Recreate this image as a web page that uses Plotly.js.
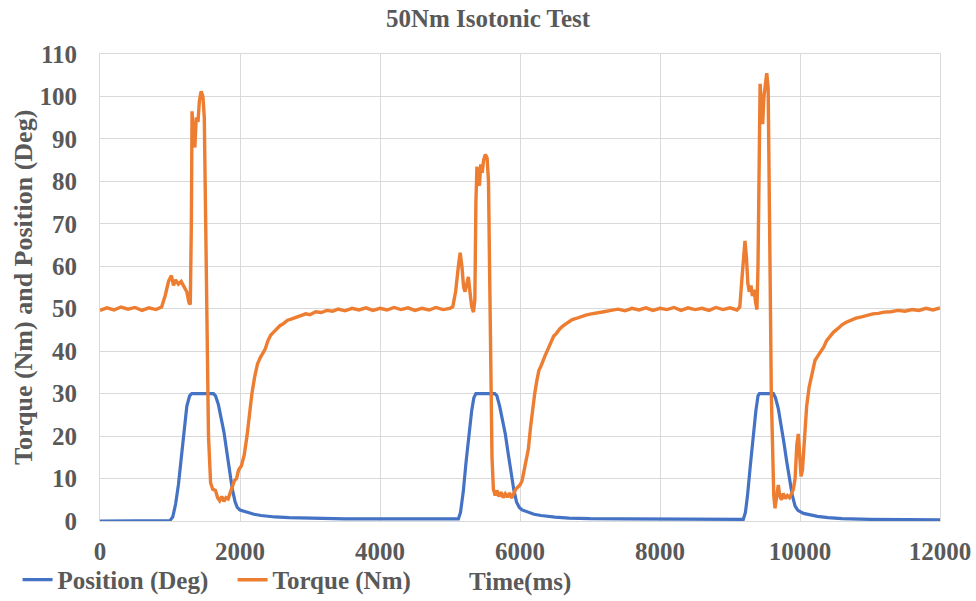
<!DOCTYPE html>
<html>
<head>
<meta charset="utf-8">
<script src="https://cdn.plot.ly/plotly-3.0.1.min.js"></script>
<style>html,body{margin:0;padding:0;background:#fff}#chart{width:976px;height:601px}</style>
</head>
<body>
<div id="chart"></div>
<script>
// Position (Deg) vs time (ms)
const posTime = [0,500,1000,1040,1080,1120,1160,1200,1240,1280,1310,1620,1650,1690,1730,1770,1810,1850,1890,1930,1960,2000,2100,2200,2300,2400,2500,2700,3000,3500,4000,5000,
  5120,5150,5190,5230,5270,5310,5340,5370,5640,5670,5710,5750,5790,5830,5870,5910,5950,5990,6030,6120,6200,6300,6400,6500,6700,7000,7500,8500,
  9190,9220,9250,9290,9330,9370,9400,9420,9620,9650,9690,9730,9770,9810,9850,9890,9930,9970,10050,10150,10250,10400,10600,11000,12000];
const posValues = [0,0.1,0.1,1,4,8.5,15,21,27,29.5,30,30,29.5,27.5,24.5,21,16.5,12,7.5,4.5,3.2,2.6,2,1.6,1.3,1.1,0.95,0.8,0.65,0.5,0.5,0.5,
  0.5,2,7,14,20.5,26,29,30,30,29.5,27,24,20.5,16,11.5,7.5,4.5,3.2,2.6,2,1.6,1.3,1.05,0.9,0.7,0.55,0.5,0.45,
  0.4,2,6,13,20,26,29.5,30,30,29,26.5,23,18.5,14,9.5,6,3.5,2.5,1.8,1.4,1.1,0.8,0.55,0.4,0.3];

// Torque (Nm) vs time (ms)
const torqueTime = [0,100,200,300,400,500,600,700,800,880,
  930,980,1020,1050,1080,1120,1160,1200,1240,1270,1290,1305,1315,1335,1355,1375,1400,1420,1445,1470,1490,1510,1530,1550,1580,1610,1650,1680,1710,1740,1770,1800,1830,1860,1890,1920,1950,1980,2020,2060,2100,2130,2170,2210,2250,2290,2320,2360,2400,2440,2480,2520,2570,2620,2680,2740,2800,2870,2940,3000,3080,3160,3240,3320,3400,3500,3600,3700,3800,3900,4000,4100,4200,4300,4400,4500,4600,4700,4800,4900,5000,5040,
  5080,5120,5145,5170,5195,5215,5240,5262,5285,5310,5335,5355,5370,5385,5400,5420,5440,5460,5480,5505,5530,5550,5565,5580,5600,5620,5645,5670,5700,5730,5760,5790,5820,5850,5880,5910,5940,5970,6000,6030,6060,6090,6120,6150,6180,6210,6240,6270,6300,6330,6360,6400,6440,6480,6520,6570,6620,6680,6740,6800,6870,6940,7020,7100,7200,7300,7400,7500,7600,7700,7800,7900,8000,8100,8200,8300,8400,8500,8600,8700,8800,8900,9000,9100,9140,
  9170,9195,9214,9235,9255,9275,9300,9320,9345,9365,9385,9400,9415,9430,9450,9467,9485,9505,9525,9545,9560,9575,9590,9610,9625,9643,9660,9690,9710,9735,9760,9790,9820,9850,9880,9905,9930,9955,9976,9995,10015,10035,10060,10095,10130,10170,10214,10260,10300,10340,10380,10430,10480,10540,10600,10660,10730,10800,10880,10960,11040,11120,11200,11300,11400,11500,11600,11700,11800,11900,12000];
const torqueValues = [49.6,50.2,49.7,50.4,49.9,50.3,49.6,50.2,49.8,50.4,
  53,56.5,57.8,55.5,56.8,55.8,56.4,55.2,54,51.5,51,70,96.5,90,88,95,94,99,101.2,100,95,70,40,20,9,7.5,7.2,5.5,4.8,5.8,4.6,5.5,5.2,6.5,8,9.5,10,12,13,15.5,20,25,30,34,37,38.5,39.5,40.5,42.5,43.8,44.5,45.2,46,46.5,47.3,47.6,48,48.3,48.8,48.6,49.3,49.1,49.6,49.4,49.9,49.5,50.1,49.7,50.2,49.6,50.1,49.7,50.3,49.8,50.2,49.6,50.1,49.7,50.3,49.8,50.1,50.5,
  54,60,63.2,60,55,54,56.5,57.5,54,50.5,49.2,52,75,83.5,80,79,84,82,85,86.3,85.5,80,60,35,15,7.5,6,7.2,5.8,6.8,5.5,6.4,5.6,6.6,5.4,6.5,7.5,8,8.5,9.5,12,13.5,17,22,26.5,30,33,35.5,36.5,38,39,40.5,42,43.5,44.2,45.3,46,46.8,47.4,47.7,48.2,48.5,48.8,49.1,49.3,49.6,49.9,49.5,50.1,49.7,50.2,49.6,50.1,49.8,50.3,49.6,50.2,49.8,50.1,49.6,50.3,49.8,50.2,49.7,50.4,
  57,63,66,62,56,54,55.5,53,54.5,51.5,49.8,60,90,103,97,93.5,100,103.5,105.5,102,85,55,30,12,6,3,5,8.5,6,5,6.5,5.3,6,5.5,6.5,7.5,10,18,20.5,15,10.5,12,18,27,31.5,35,37.8,39,40,41,42.5,43.5,44.5,45.3,46.2,46.8,47.3,47.8,48.1,48.5,48.8,48.9,49.2,49.3,49.6,49.4,49.8,49.6,50.1,49.7,50.2];

const xTicks = [0,2000,4000,6000,8000,10000,12000];
const yTicks = [0,10,20,30,40,50,60,70,80,90,100,110];

const FONT = 'Liberation Serif, Times New Roman, serif';
const TXT = '#595959';

const traces = [
  {x: posTime, y: posValues, type: 'scatter', mode: 'lines', name: 'Position (Deg)',
   line: {color: '#4472C4', width: 3.2}},
  {x: torqueTime, y: torqueValues, type: 'scatter', mode: 'lines', name: 'Torque (Nm)',
   line: {color: '#ED7D31', width: 3.4}}
];

const layout = {
  width: 976, height: 601,
  margin: {l: 100, r: 36, t: 54, b: 80},
  paper_bgcolor: '#fff', plot_bgcolor: '#fff',
  font: {family: FONT, color: TXT, weight: 'bold'},
  title: {text: '50Nm Isotonic Test', font: {family: FONT, size: 25, color: TXT, weight: 'bold'},
          x: 0.5, xanchor: 'center', y: 0.97, yanchor: 'middle', yref: 'container'},
  xaxis: {range: [0, 12000], tickvals: xTicks, ticktext: xTicks.map(String),
          showgrid: true, gridcolor: '#d9d9d9', gridwidth: 1,
          showline: true, linecolor: '#d9d9d9', linewidth: 1, mirror: true,
          zeroline: false, ticks: '', ticklabelstandoff: 8,
          tickfont: {family: FONT, size: 25, color: TXT, weight: 'bold'}},
  yaxis: {range: [0, 110], tickvals: yTicks, ticktext: yTicks.map(String),
          showgrid: true, gridcolor: '#d9d9d9', gridwidth: 1,
          showline: true, linecolor: '#d9d9d9', linewidth: 1, mirror: true,
          zeroline: false, ticks: '', ticklabelstandoff: 17,
          tickfont: {family: FONT, size: 25, color: TXT, weight: 'bold'}},
  annotations: [
    {text: 'Time(ms)', xref: 'paper', yref: 'paper', x: 0.5, y: -0.13, xanchor: 'center', yanchor: 'middle',
     showarrow: false, font: {family: FONT, size: 25, color: TXT, weight: 'bold'}},
    {text: 'Torque (Nm) and Position (Deg)', xref: 'paper', yref: 'paper', x: -0.091, y: 0.5,
     xanchor: 'center', yanchor: 'middle', textangle: -90,
     showarrow: false, font: {family: FONT, size: 26, color: TXT, weight: 'bold'}}
  ],
  showlegend: true,
  legend: {orientation: 'h', xref: 'container', yref: 'container', x: 0.018, y: 0.035,
           xanchor: 'left', yanchor: 'middle', itemwidth: 30,
           entrywidthmode: 'pixels', entrywidth: 170,
           font: {family: FONT, size: 25, color: TXT, weight: 'bold'}, bgcolor: 'rgba(0,0,0,0)'}
};

Plotly.newPlot('chart', traces, layout, {displayModeBar: false, staticPlot: true});
</script>
</body>
</html>
